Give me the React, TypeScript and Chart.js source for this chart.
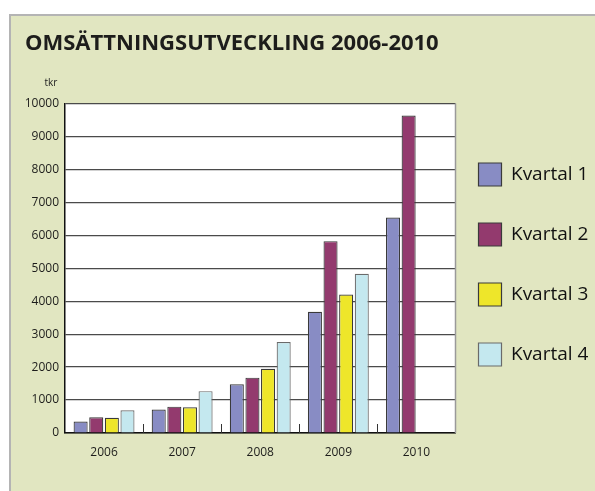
import React, { useEffect, useRef } from "react";
import { Chart, registerables } from "chart.js";

Chart.register(...registerables);

const titleText = "OMSÄTTNINGSUTVECKLING 2006-2010";
const unitLabel = "tkr";
const categories = ["2006", "2007", "2008", "2009", "2010"];
const seriesNames = ["Kvartal 1", "Kvartal 2", "Kvartal 3", "Kvartal 4"];
const kvartal1 = [350, 710, 1480, 3680, 6540];
const kvartal2 = [480, 800, 1680, 5820, 9630];
const kvartal3 = [460, 780, 1950, 4200, null];
const kvartal4 = [690, 1270, 2760, 4830, null];
const yMin = 0;
const yMax = 10000;
const yStep = 1000;

const seriesValues = [kvartal1, kvartal2, kvartal3, kvartal4];
const seriesColors = ["#888cc4", "#933a6e", "#eee62a", "#c4e8ef"];
const seriesBorders = ["#3a3a3a", "#3a3a3a", "#3a3a3a", "#6a6a6a"];

const FONT = '"Open Sans", "DejaVu Sans", sans-serif';

const decorPlugin = {
  id: "decor",
  afterLayout(chart: any) {
    const lg = chart.legend;
    if (lg) {
      const pad = lg.options.labels.padding;
      const dy = 28;
      lg.left = chart.chartArea.right + 23 - pad;
      lg.right = chart.width;
      lg.width = lg.right - lg.left;
      lg.top += dy;
      lg.bottom = Math.min(lg.bottom + dy, chart.height);
      lg.height = lg.bottom - lg.top;
    }
  },
  beforeDraw(chart: any) {
    const { ctx, chartArea } = chart;
    const { left, top, right, bottom } = chartArea;
    ctx.save();
    ctx.fillStyle = "#ffffff";
    ctx.fillRect(left, top, right - left, bottom - top);
    ctx.restore();
  },
  afterDatasetsDraw(chart: any) {
    const { ctx, chartArea, scales } = chart;
    const { left, top, right, bottom } = chartArea;
    const xs = scales.x;
    ctx.save();
    ctx.strokeStyle = "#9a9a9a";
    ctx.lineWidth = 1.5;
    ctx.beginPath();
    ctx.moveTo(right, top);
    ctx.lineTo(right, bottom);
    ctx.stroke();
    ctx.strokeStyle = "#333";
    ctx.lineWidth = 1;
    for (let i = 1; i < categories.length; i++) {
      const px = Math.round((xs.getPixelForValue(i - 1) + xs.getPixelForValue(i)) / 2) + 0.5;
      ctx.beginPath();
      ctx.moveTo(px, bottom);
      ctx.lineTo(px, bottom - 9);
      ctx.stroke();
    }
    ctx.fillStyle = "#222";
    ctx.font = `10px ${FONT}`;
    ctx.textAlign = "center";
    ctx.textBaseline = "middle";
    ctx.fillText(unitLabel, left - 14, top - 20);
    ctx.restore();
  },
};

export default function App() {
  const canvasRef = useRef<HTMLCanvasElement | null>(null);

  useEffect(() => {
    const canvas = canvasRef.current;
    if (!canvas) return;
    const chart = new Chart(canvas, {
      type: "bar",
      data: {
        labels: categories,
        datasets: seriesNames.map((name, i) => ({
          label: name,
          data: seriesValues[i],
          backgroundColor: seriesColors[i],
          borderColor: seriesBorders[i],
          borderWidth: 1.2,
          categoryPercentage: 0.8,
          barPercentage: 0.9,
        })),
      },
      options: {
        responsive: false,
        animation: false,
        devicePixelRatio: 1,
        layout: { padding: { left: 25, top: 14, right: 0, bottom: 32 } },
        plugins: {
          title: {
            display: true,
            text: titleText,
            align: "start",
            color: "#1d1d1b",
            font: { family: FONT, size: 22, weight: "bold" },
            padding: { top: 17, bottom: 46 },
          },
          legend: {
            display: true,
            position: "right",
            align: "center",
            maxWidth: 139.5,
            labels: {
              boxWidth: 23,
              boxHeight: 23,
              padding: 37,
              color: "#111",
              font: { family: FONT, size: 19 },
            },
          },
          tooltip: { enabled: false },
        },
        scales: {
          x: {
            grid: { display: true, drawOnChartArea: false, drawTicks: false },
            border: { display: true, color: "#111", width: 1.5 },
            ticks: {
              color: "#1d1d1b",
              padding: 12,
              font: { family: FONT, size: 12 },
            },
            afterFit: (s: any) => {
              s.height = 26;
            },
          },
          y: {
            min: yMin,
            max: yMax,
            grid: { color: "#4a4a4a", lineWidth: 1.2, drawTicks: false },
            border: { display: true, color: "#111", width: 1.5 },
            ticks: {
              stepSize: yStep,
              color: "#1d1d1b",
              padding: 6,
              font: { family: FONT, size: 12 },
              callback: (v: any) => String(v),
            },
            afterFit: (s: any) => {
              s.width = 40;
            },
          },
        },
      },
      plugins: [decorPlugin],
    } as any);
    return () => chart.destroy();
  }, []);

  return (
    <div>
      <div
        style={{
          position: "absolute",
          left: 9,
          top: 14,
          width: 586,
          height: 477,
          boxSizing: "border-box",
          background: "#e1e6c1",
          borderLeft: "2px solid #b4b4b4",
          borderTop: "2px solid #b4b4b4",
        }}
      />
      <canvas
        ref={canvasRef}
        width={595}
        height={491}
        style={{ position: "absolute", left: 0, top: 0, width: 595, height: 491 }}
      />
    </div>
  );
}
